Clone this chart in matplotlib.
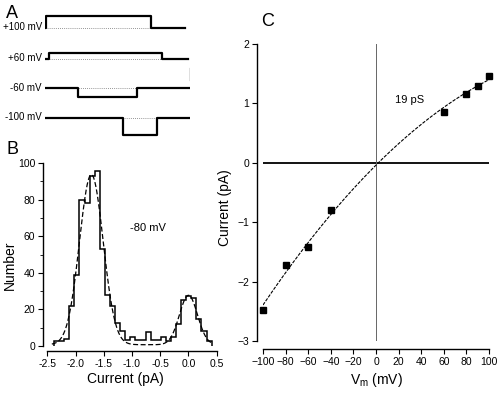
import matplotlib
matplotlib.use("Agg")
import matplotlib.pyplot as plt
import numpy as np

plt.rcParams["font.family"] = ["Liberation Sans", "DejaVu Sans"]
plt.rcParams["mathtext.fontset"] = "custom"
plt.rcParams["mathtext.rm"] = "Liberation Sans"

# Panel A: single-channel traces (levels, in pA)
trace_labels = ["+100 mV", "+60 mV", "-60 mV", "-100 mV"]
trace_amp = [1.6, 0.9, -1.2, -2.4]        # open level relative to closed
open_start = [1, 4, 33, 78]                # ms
open_end = [106, 117, 92, 112]             # ms
trace_stop = [140, 143, 145, 145]          # ms

# Panel B: amplitude histogram at -80 mV
hist_start = -2.38
hist_width = 0.09
hist_counts = [3, 3, 4, 22, 39, 80, 78, 93, 95.5, 53, 28, 22, 12.5, 8, 3.5,
               5, 3.5, 3.5, 7.5, 3.5, 3.5, 5, 3, 5, 12, 25, 27.5, 26, 15, 8, 3]
fit_amp = [93, 27]
fit_mean = [-1.72, 0.0]
fit_sd = [0.21, 0.16]
fit_base = 0.7

# Panel C: I-V relation
vm = [-100, -80, -60, -40, 60, 80, 90, 100]
i_pa = [-2.48, -1.72, -1.42, -0.80, 0.86, 1.16, 1.30, 1.46]

fig = plt.figure(figsize=(5, 3.93), dpi=100)

# ---------------- A ----------------
axA = fig.add_axes([0.09, 0.631, 0.29, 0.356])
trace_offset = [0, -4.5, -8.7, -12.9]   # vertical stacking of traces
for lab, amp, t0, t1, ts, off in zip(trace_labels, trace_amp, open_start,
                                      open_end, trace_stop, trace_offset):
    t = [0, t0, t0, t1, t1, ts]
    y = np.array([0, 0, amp, amp, 0, 0]) + off
    axA.plot([0, t1], [off, off], color="0.45", lw=0.6, ls=(0, (1, 1.5)))
    axA.plot(t, y, color="black", lw=1.6)
    axA.text(-3, off + 0.1, lab, ha="right", va="center", fontsize=7)
# scale bar
axA.plot([145, 145], [-5.8, -7.5], color="black", lw=0.9)
axA.set_xlim(0, 145)
axA.set_ylim(-16.79, 3.21)
axA.axis("off")

# ---------------- B ----------------
axB = fig.add_axes([0.0946, 0.1196, 0.3388, 0.4656])
edges = hist_start + hist_width * np.arange(len(hist_counts) + 1)
axB.stairs(hist_counts, edges, baseline=0, color="black", lw=1.1)
xf = np.linspace(-2.42, 0.42, 300)
yf = fit_base + sum(a * np.exp(-(xf - m) ** 2 / (2 * s ** 2))
                    for a, m, s in zip(fit_amp, fit_mean, fit_sd))
axB.plot(xf, yf, color="black", lw=0.9, ls=(0, (4, 2)))
axB.text(-0.72, 64.5, "-80 mV", ha="center", va="center", fontsize=8)
axB.set_xlim(-2.5, 0.5)
axB.set_ylim(0, 100)
axB.set_xticks(np.arange(-2.5, 0.51, 0.5))
axB.set_xticklabels(["-2.5", "-2.0", "-1.5", "-1.0", "-0.5", "0.0", "0.5"])
axB.set_yticks(range(0, 101, 20))
axB.set_yticks(range(10, 100, 20), minor=True)
axB.spines["top"].set_visible(False)
axB.spines["right"].set_visible(False)
axB.spines["left"].set_position(("outward", 3.1))
axB.spines["bottom"].set_position(("outward", 3.6))
axB.set_ylabel("Number", fontsize=10)
axB.set_xlabel("Current (pA)", fontsize=10)
axB.yaxis.set_label_coords(-0.18, 0.44)
axB.xaxis.set_label_coords(0.459, -0.142)

# ---------------- C ----------------
axC = fig.add_axes([0.526, 0.1323, 0.452, 0.7557])
axC.axhline(0, color="black", lw=1.3)
axC.axvline(0, color="0.4", lw=0.7)
coef = np.polyfit(vm, i_pa, 2)
vv = np.linspace(-100, 100, 200)
axC.plot(vv, np.polyval(coef, vv), color="black", lw=0.8, ls=(0, (3, 1.2)))
axC.plot(vm, i_pa, "s", color="black", ms=5, clip_on=False)
axC.text(30, 1.06, "19 pS", ha="center", va="center", fontsize=8)
axC.set_xlim(-100, 100)
axC.set_ylim(-3, 2)
axC.set_xticks(range(-100, 101, 20))
axC.set_yticks(range(-3, 3))
axC.spines["top"].set_visible(False)
axC.spines["right"].set_visible(False)
axC.spines["left"].set_position(("outward", 4.3))
axC.spines["bottom"].set_position(("outward", 5.8))
axC.set_ylabel("Current (pA)", fontsize=10)
axC.set_xlabel(r"V$_\mathrm{m}$ (mV)", fontsize=10)
axC.yaxis.set_label_coords(-0.137, 0.448)
axC.xaxis.set_label_coords(0.504, -0.101)

for ax in (axB, axC):
    ax.tick_params(which="major", direction="out", length=3.5, width=0.8,
                   labelsize=7.5, pad=2)
    ax.tick_params(which="minor", direction="out", length=2, width=0.6)
    for sp in ("left", "bottom"):
        ax.spines[sp].set_linewidth(1.0)

fig.text(12 / 500, 1 - 13 / 393, "A", fontsize=13, ha="center", va="center")
fig.text(12 / 500, 1 - 150 / 393, "B", fontsize=13, ha="center", va="center")
fig.text(268 / 500, 1 - 22 / 393, "C", fontsize=13, ha="center", va="center")

fig.savefig("out.png", dpi=100)
